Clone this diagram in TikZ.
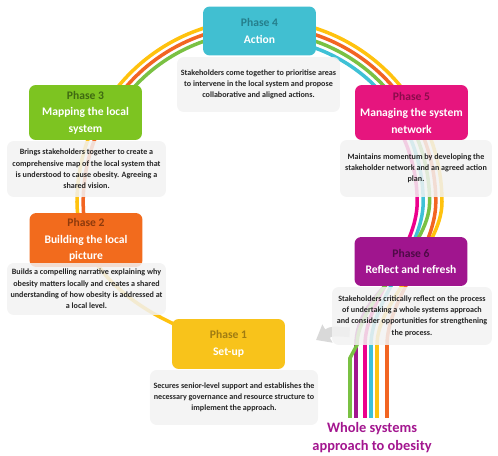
\documentclass[tikz,border=0pt]{standalone}
\usepackage{fontspec}
\setmainfont{Carlito}
\usetikzlibrary{arrows.meta}
\definecolor{yellowfill}{HTML}{F8C31B}
\definecolor{yellowtext}{HTML}{A07C12}
\definecolor{orangefill}{HTML}{F26B1D}
\definecolor{orangetext}{HTML}{8E3A0C}
\definecolor{greenfill}{HTML}{7DC421}
\definecolor{greentext}{HTML}{3F6A12}
\definecolor{cyanfill}{HTML}{41BFD1}
\definecolor{cyantext}{HTML}{257F8C}
\definecolor{pinkfill}{HTML}{E6157E}
\definecolor{pinktext}{HTML}{8A0C4B}
\definecolor{purplefill}{HTML}{A0158E}
\definecolor{purpletext}{HTML}{4E0A46}
\definecolor{descfill}{HTML}{F2F2F2}
\definecolor{desctext}{HTML}{262626}
\definecolor{strandyellow}{HTML}{FFC20E}
\definecolor{strandorange}{HTML}{F26522}
\definecolor{strandgreen}{HTML}{7AC143}
\definecolor{strandcyan}{HTML}{3FC1D6}
\definecolor{strandpink}{HTML}{EC008C}
\definecolor{strandpurple}{HTML}{A3168F}
\pgfdeclarelayer{back}
\pgfsetlayers{back,main}
\begin{document}
\begin{tikzpicture}[x=0.02cm,y=-0.02cm,
    phase/.style={rectangle,rounded corners=0.8ex,minimum width=2.26cm,minimum height=0.98cm,align=center,inner sep=1pt,text=white,font=\fontsize{6.6}{9.4}\selectfont\bfseries},
    about/.style={rectangle,rounded corners=0.8ex,fill=descfill,fill opacity=0.85,text opacity=1,align=center,inner sep=2pt,text=desctext,font=\fontsize{4.6}{6.4}\selectfont\bfseries},
    strand/.style={line width=2pt},
    backarrow/.style={line width=5.5pt,gray!30,-{Triangle[length=7.5pt,width=11.5pt]}}]
    \useasboundingbox (0,0) rectangle (498,456);
    %% Phases
    \node[phase,fill=cyanfill] (p4) at (259.5,31) {\textcolor{cyantext}{Phase 4}\\Action};
    \node[phase,fill=greenfill,minimum height=1.1cm] (p3) at (85.5,112.5) {\textcolor{greentext}{Phase 3}\\Mapping the local\\system};
    \node[phase,fill=pinkfill,minimum height=1.1cm] (p5) at (411.5,112.5) {\textcolor{pinktext}{Phase 5}\\Managing the system\\network};
    \node[phase,fill=orangefill,minimum height=1.08cm] (p2) at (86,240) {\textcolor{orangetext}{Phase 2}\\Building the local\\picture};
    \node[phase,fill=purplefill] (p6) at (411,261.5) {\textcolor{purpletext}{Phase 6}\\Reflect and refresh};
    \node[phase,fill=yellowfill,minimum height=1cm] (p1) at (228.5,344) {\textcolor{yellowtext}{Phase 1}\\Set-up};
    %% Descriptions
    \node[about,minimum width=3.26cm,minimum height=1.1cm] (d4) at (258.5,84.5) {Stakeholders come together to prioritise areas\\to intervene in the local system and propose\\collaborative and aligned actions.};
    \node[about,minimum width=3.18cm,minimum height=1.12cm] (d3) at (86.5,169) {Brings stakeholders together to create a\\comprehensive map of the local system that\\is understood to cause obesity. Agreeing a\\shared vision.};
    \node[about,minimum width=3.04cm,minimum height=1.14cm] (d5) at (416,168.5) {Maintains momentum by developing the\\stakeholder network and an agreed action\\plan.};
    \node[about,minimum width=3.14cm,minimum height=1.04cm] (d2) at (86.5,289) {Builds a compelling narrative explaining why\\obesity matters locally and creates a shared\\understanding of how obesity is addressed at\\a local level.};
    \node[about,minimum width=3.2cm,minimum height=1.16cm] (d6) at (412,316) {Stakeholders critically reflect on the process\\of undertaking a whole systems approach\\and consider opportunities for strengthening\\the process.};
    \node[about,minimum width=3.28cm,minimum height=1.1cm] (d1) at (234,397.5) {Secures senior-level support and establishes the\\necessary governance and resource structure to\\implement the approach.};
    %% Caption
    \node[align=center,text=strandpurple,font=\fontsize{8.2}{10.4}\selectfont\bfseries] (caption) at (372,437.5) {Whole systems\\approach to obesity};
    \coordinate (arrowtip) at (316,340);
    \begin{pgfonlayer}{back}
        %% Strands
        \draw[strand,strandpurple] (356,418) -- (356,345) .. controls (356,310) and (385,285) .. (p6.center);
        \draw[strand,strandpink] (365,418) -- (365,345) .. controls (365,300) and (417.2,250) .. (417.2,202) arc(0:-35:157.7);
        \draw[strand,strandcyan] (371,418) -- (371,345) .. controls (371,300) and (423.2,250) .. (423.2,202) arc(0:-90:163.7);
        \draw[strand,strandgreen] (350,418) -- (350,358) -- (357,345) .. controls (357,300) and (429.6,250) .. (429.6,202) arc(0:-145:170.1);
        \draw[strand,strandorange] (387,418) -- (387,345) .. controls (387,300) and (435.8,250) .. (435.8,202) arc(0:-190:176.3);
        \draw[strand,strandyellow] (377,418) -- (377,345) .. controls (377,300) and (442,250) .. (442,202) arc(0:-180:182.5) .. controls (77,250) and (110,310) .. (p1.center);
        %% Back arrow
        \draw[backarrow] ([shift={(18,-13)}]d6.south west) .. controls (332,331) .. (arrowtip);
    \end{pgfonlayer}
\end{tikzpicture}
\end{document}
